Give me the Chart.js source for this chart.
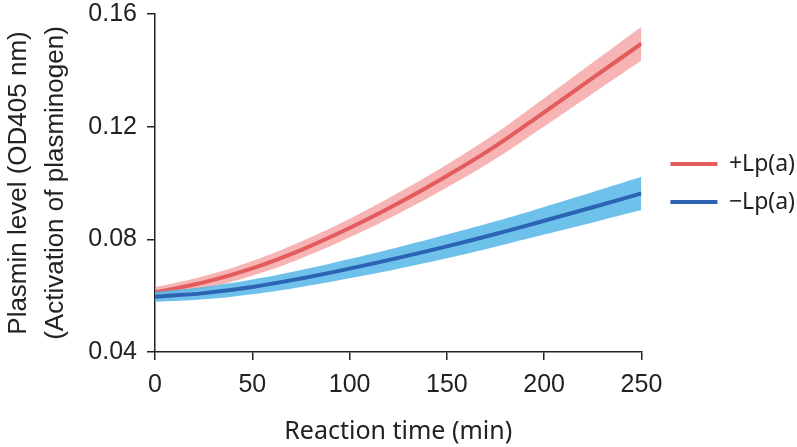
<!DOCTYPE html>
<html>
<head>
<meta charset="utf-8">
<script src="https://cdn.jsdelivr.net/npm/chart.js@4.4.1/dist/chart.umd.min.js"></script>
<style>
  html, body { margin: 0; padding: 0; background: #fff; }
  #wrap { width: 797px; height: 447px; }
</style>
</head>
<body>
<div id="wrap"><canvas id="plasminChart"></canvas></div>
<script>
// Reaction time (min)
const times = [0, 25, 50, 75, 100, 125, 150, 175, 200, 225, 250];

// +Lp(a): mean OD405 and half-width of the shaded band
const plusMean = [0.0612, 0.0647, 0.0697, 0.0762, 0.0840, 0.0928, 0.1025, 0.1131, 0.1251, 0.1373, 0.1495];
const plusErr  = [0.0018, 0.0022, 0.0026, 0.0030, 0.0033, 0.0037, 0.0041, 0.0045, 0.0050, 0.0055, 0.0060];

// -Lp(a)
const minusMean = [0.0596, 0.0609, 0.0631, 0.0661, 0.0696, 0.0734, 0.0775, 0.0819, 0.0866, 0.0914, 0.0963];
const minusErr  = [0.0018, 0.0022, 0.0026, 0.0030, 0.0034, 0.0038, 0.0042, 0.0045, 0.0049, 0.0054, 0.0059];

const yTicks = [0.04, 0.08, 0.12, 0.16];

const pts = (vals) => times.map((t, i) => ({ x: t, y: vals[i] }));
const upper = (m, e) => m.map((v, i) => v + e[i]);
const lower = (m, e) => m.map((v, i) => v - e[i]);

const RED = '#e35b5d';
const RED_BAND = 'rgba(240, 130, 130, 0.6)';
const BLUE = '#2c63b3';
const BLUE_BAND = 'rgba(85, 182, 232, 0.85)';

const axisColor = '#222';
const tickFont = { family: 'Liberation Sans, Arial, sans-serif', size: 25 };

// keep the legend centred on the plot area and nudge it right
const legendToPlot = {
    id: 'legendToPlot',
    afterLayout(chart) {
        const lg = chart.legend;
        const h = lg.bottom - lg.top;
        const mid = (chart.chartArea.top + chart.chartArea.bottom) / 2;
        lg.top = mid - h / 2;
        lg.bottom = mid + h / 2;
        lg.left += 14;
        lg.right += 14;
    }
};

const curve = { pointRadius: 0, tension: 0.4 };

new Chart(document.getElementById('plasminChart'), {
    type: 'line',
    data: {
        datasets: [
            { ...curve, label: 'band+upper', data: pts(upper(plusMean, plusErr)), borderWidth: 0, fill: false, order: 4 },
            { ...curve, label: 'band+lower', data: pts(lower(plusMean, plusErr)), borderWidth: 0, fill: '-1', backgroundColor: RED_BAND, order: 4 },
            { ...curve, label: '+Lp(a)', data: pts(plusMean), borderColor: RED, backgroundColor: RED, borderWidth: 4, fill: false, order: 3 },
            { ...curve, label: 'band-upper', data: pts(upper(minusMean, minusErr)), borderWidth: 0, fill: false, order: 2 },
            { ...curve, label: 'band-lower', data: pts(lower(minusMean, minusErr)), borderWidth: 0, fill: '-1', backgroundColor: BLUE_BAND, order: 2 },
            { ...curve, label: '\u2212Lp(a)', data: pts(minusMean), borderColor: BLUE, backgroundColor: BLUE, borderWidth: 4, fill: false, order: 1 }
        ]
    },
    plugins: [legendToPlot],
    options: {
        responsive: true,
        maintainAspectRatio: false,
        animation: false,
        layout: { padding: { top: 0, right: 6, bottom: 0, left: 0 } },
        plugins: {
            tooltip: { enabled: false },
            legend: {
                position: 'right',
                align: 'center',
                labels: {
                    filter: (item) => !item.text.startsWith('band'),
                    sort: (a, b) => a.datasetIndex - b.datasetIndex,
                    usePointStyle: true,
                    pointStyle: 'line',
                    pointStyleWidth: 47,
                    boxHeight: 4,
                    padding: 15,
                    color: '#222',
                    font: { family: 'Noto Sans, sans-serif', size: 23 }
                }
            }
        },
        scales: {
            x: {
                type: 'linear',
                min: 0,
                max: 250,
                border: { color: axisColor, width: 1.5 },
                grid: { drawOnChartArea: false, color: axisColor, lineWidth: 1.5, tickLength: 8 },
                ticks: { stepSize: 50, color: '#222', font: tickFont, padding: 10, maxRotation: 0 },
                title: {
                    display: true,
                    text: 'Reaction time (min)',
                    color: '#222',
                    font: { family: 'Noto Sans, sans-serif', size: 25 },
                    padding: { top: 8, bottom: 0 }
                },
                afterFit: (scale) => { scale.height = 95; }
            },
            y: {
                min: 0.04,
                max: 0.16,
                afterBuildTicks: (scale) => { scale.ticks = yTicks.map(v => ({ value: v })); },
                border: { color: axisColor, width: 1.5 },
                grid: { drawOnChartArea: false, color: axisColor, lineWidth: 1.5, tickLength: 8 },
                ticks: { color: '#222', font: tickFont, padding: 10, callback: (v) => v.toFixed(2) },
                title: {
                    display: true,
                    text: ['Plasmin level (OD405 nm)', '(Activation of plasminogen)'],
                    color: '#222',
                    font: { family: 'Liberation Sans, Arial, sans-serif', size: 26, lineHeight: 1.42 },
                    padding: { top: 0, bottom: 4 }
                },
                afterFit: (scale) => { scale.width = 155; scale.paddingTop = 14; }
            }
        }
    }
});
</script>
</body>
</html>
